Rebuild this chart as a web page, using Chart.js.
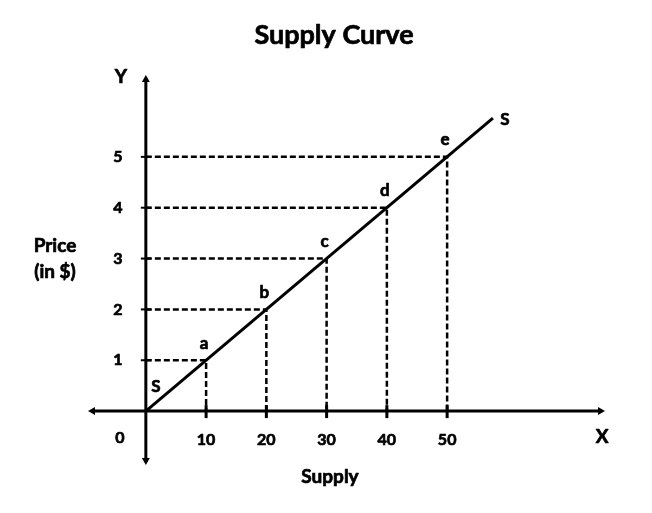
<!DOCTYPE html>
<html><head><meta charset="utf-8">
<script src="https://cdn.jsdelivr.net/npm/chart.js@4/dist/chart.umd.min.js"></script>
<style>html,body{margin:0;padding:0;background:#fff}canvas{display:block}</style>
</head><body>
<canvas id="c" width="652" height="513"></canvas>
<script>
const chartTitle = 'Supply Curve';
const supplyQty = [10, 20, 30, 40, 50];
const supplyPrice = [1, 2, 3, 4, 5];
const pointLabels = ['a', 'b', 'c', 'd', 'e'];
const xTickLabels = ['10', '20', '30', '40', '50'];
const yTickLabels = ['1', '2', '3', '4', '5'];
const curveX = [0, 57.6];
const curveY = [0, 5.76];
const xRange = [-9.6, 76.2];
const yRange = [-1.06, 6.61];

const FONT = 'Lato, "Open Sans", sans-serif';
const W = 'bold ';

const datasets = [];
supplyQty.forEach((q, i) => {
  datasets.push({
    data: [{x: 0, y: supplyPrice[i]}, {x: q, y: supplyPrice[i]}, {x: q, y: 0}],
    borderColor: '#000', borderWidth: 2.5, borderDash: [6, 3],
    pointRadius: 0, showLine: true, fill: false, tension: 0
  });
});
datasets.push({
  data: curveX.map((x, i) => ({x, y: curveY[i]})),
  borderColor: '#000', borderWidth: 3, pointRadius: 0, showLine: true, fill: false
});

const decor = {
  id: 'decor',
  beforeDatasetsDraw(chart) {
    const ctx = chart.ctx, xs = chart.scales.x, ys = chart.scales.y;
    const ox = xs.getPixelForValue(0), oy = ys.getPixelForValue(0);
    const L = xs.getPixelForValue(xRange[0]), R = xs.getPixelForValue(xRange[1]);
    const T = ys.getPixelForValue(yRange[1]), B = ys.getPixelForValue(yRange[0]);
    ctx.save();
    ctx.strokeStyle = '#000'; ctx.fillStyle = '#000'; ctx.lineWidth = 3;
    ctx.beginPath(); ctx.moveTo(L + 3, oy); ctx.lineTo(R - 3, oy); ctx.stroke();
    ctx.beginPath(); ctx.moveTo(ox, T + 3); ctx.lineTo(ox, B - 3); ctx.stroke();
    const head = (x, y, dx, dy) => {
      ctx.beginPath();
      ctx.moveTo(x, y);
      ctx.lineTo(x - dx * 7 + dy * 4, y - dy * 7 + dx * 4);
      ctx.lineTo(x - dx * 7 - dy * 4, y - dy * 7 - dx * 4);
      ctx.closePath(); ctx.fill();
    };
    head(R, oy, 1, 0); head(L, oy, -1, 0); head(ox, T, 0, -1); head(ox, B, 0, 1);
    ctx.lineWidth = 3;
    supplyQty.forEach(q => { const px = xs.getPixelForValue(q); ctx.beginPath(); ctx.moveTo(px, oy - 6); ctx.lineTo(px, oy + 7); ctx.stroke(); });
    ctx.lineWidth = 2;
    supplyPrice.forEach(p => { const py = ys.getPixelForValue(p); ctx.beginPath(); ctx.moveTo(ox - 5, py); ctx.lineTo(ox + 5, py); ctx.stroke(); });
    ctx.restore();
  },
  afterDraw(chart) {
    const ctx = chart.ctx, xs = chart.scales.x, ys = chart.scales.y;
    const ox = xs.getPixelForValue(0), oy = ys.getPixelForValue(0);
    ctx.save();
    ctx.fillStyle = '#000'; ctx.strokeStyle = '#000'; ctx.lineWidth = 0.7; ctx.lineJoin = 'round';
    ctx.textAlign = 'center'; ctx.textBaseline = 'middle';
    const txt = (t, x, y) => { ctx.fillText(t, x, y); ctx.strokeText(t, x, y); };
    ctx.font = W + '27px ' + FONT;
    txt(chartTitle, 334, 35);
    ctx.font = W + '16px ' + FONT;
    xTickLabels.forEach((t, i) => txt(t, xs.getPixelForValue(supplyQty[i]), oy + 29));
    yTickLabels.forEach((t, i) => txt(t, ox - 28, ys.getPixelForValue(supplyPrice[i])));
    txt('0', ox - 26, oy + 27);
    ctx.font = W + '17px ' + FONT;
    pointLabels.forEach((t, i) => txt(t, xs.getPixelForValue(supplyQty[i]) - 2, ys.getPixelForValue(supplyPrice[i]) - 17));
    txt('S', ox + 10, oy - 25);
    txt('S', xs.getPixelForValue(curveX[1]) + 12, ys.getPixelForValue(curveY[1]) + 1);
    ctx.font = W + '19px ' + FONT;
    txt('Y', ox - 25, ys.getPixelForValue(yRange[1]) + 2);
    txt('X', xs.getPixelForValue(xRange[1]) - 3, oy + 26);
    txt('Price', 55, 246);
    txt('(in $)', 55, 272);
    txt('Supply', 330, 477);
    ctx.restore();
  }
};

new Chart(document.getElementById('c'), {
  type: 'scatter',
  data: { datasets },
  options: {
    responsive: false, animation: false, devicePixelRatio: 1,
    layout: { padding: { left: 88, right: 47, top: 75, bottom: 48 } },
    plugins: { legend: { display: false }, tooltip: { enabled: false }, title: { display: false } },
    scales: {
      x: { type: 'linear', min: xRange[0], max: xRange[1], display: false },
      y: { type: 'linear', min: yRange[0], max: yRange[1], display: false }
    }
  },
  plugins: [decor]
});
</script>
</body></html>
